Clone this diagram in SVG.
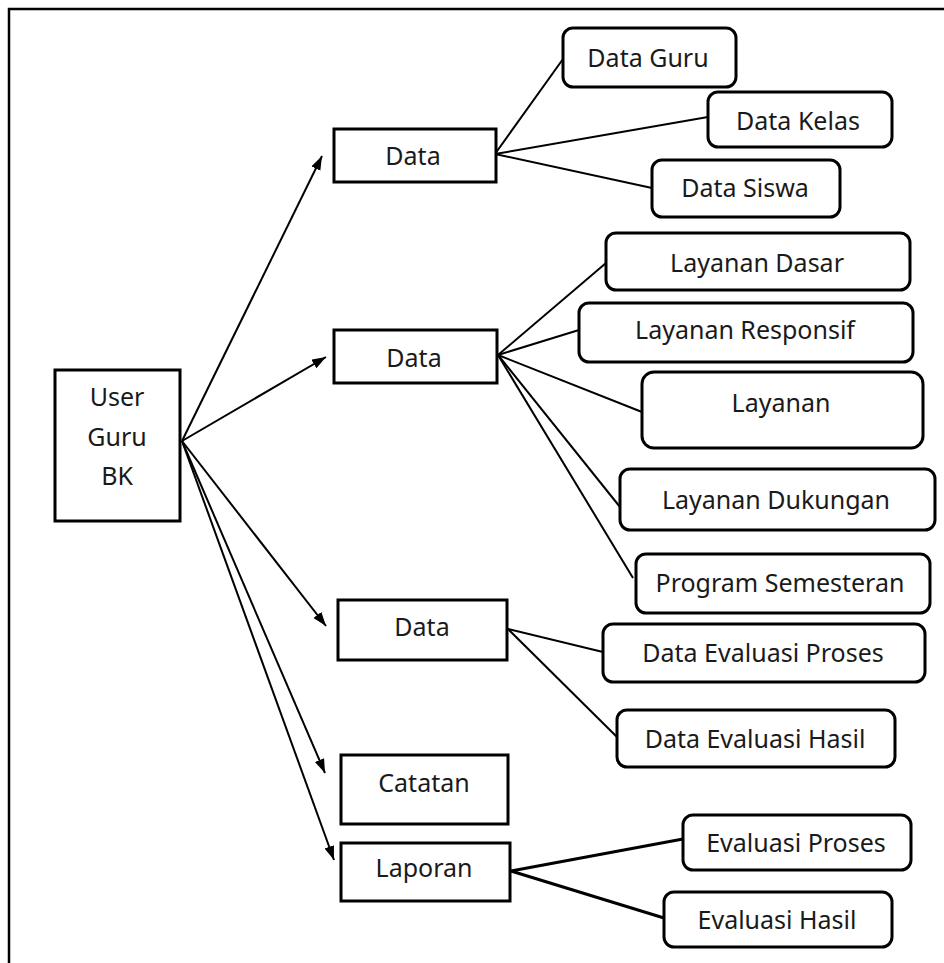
<svg xmlns="http://www.w3.org/2000/svg" width="944" height="963" viewBox="0 0 944 963">
<style>
.box{fill:#fff;stroke:#000;stroke-width:3}
.rbox{fill:#fff;stroke:#000;stroke-width:3}
.t{font-family:"Noto Sans","Open Sans",sans-serif;font-size:25px;fill:#1a1a1a;text-anchor:middle}
.c{stroke:#000;stroke-width:2;fill:none}
.ct{stroke:#000;stroke-width:3;fill:none}
</style>
<defs>
<marker id="arr" markerUnits="userSpaceOnUse" markerWidth="16" markerHeight="12" refX="14" refY="5" orient="auto">
<path d="M0,0 L14,5 L0,10 z" fill="#000"/>
</marker>
</defs>
<rect width="944" height="963" fill="#fff"/>
<rect x="9" y="9" width="1000" height="1000" fill="none" stroke="#000" stroke-width="2.5"/>
<g id="connectors">
<line class="c" x1="182" y1="441" x2="322" y2="156" marker-end="url(#arr)"/>
<line class="c" x1="182" y1="441" x2="326" y2="357" marker-end="url(#arr)"/>
<line class="c" x1="182" y1="441" x2="326" y2="626" marker-end="url(#arr)"/>
<line class="c" x1="182" y1="441" x2="325" y2="773" marker-end="url(#arr)"/>
<line class="c" x1="182" y1="441" x2="334" y2="860" marker-end="url(#arr)"/>
<line class="c" x1="495" y1="154" x2="563" y2="59"/>
<line class="c" x1="495" y1="154" x2="708" y2="117"/>
<line class="c" x1="495" y1="154" x2="652" y2="188"/>
<line class="c" x1="498" y1="355" x2="606" y2="263"/>
<line class="c" x1="498" y1="355" x2="579" y2="330"/>
<line class="c" x1="498" y1="355" x2="642" y2="412"/>
<line class="c" x1="498" y1="355" x2="620" y2="507"/>
<line class="c" x1="498" y1="355" x2="633" y2="578"/>
<line class="c" x1="508" y1="629" x2="603" y2="652"/>
<line class="c" x1="508" y1="629" x2="617" y2="737"/>
<line class="ct" x1="511" y1="871" x2="683" y2="839"/>
<line class="ct" x1="511" y1="871" x2="664" y2="918"/>
</g>
<g id="user"><rect class="box" x="55" y="370" width="125" height="151"/>
<text class="t" x="117" y="406">User</text><text class="t" x="117" y="446">Guru</text><text class="t" x="117" y="485">BK</text></g>
<g id="data1"><rect class="box" x="334" y="129" width="162" height="53"/><text class="t" x="413" y="165">Data</text></g>
<g id="data2"><rect class="box" x="334" y="330" width="163" height="53"/><text class="t" x="414" y="367">Data</text></g>
<g id="data3"><rect class="box" x="338" y="600" width="169" height="60"/><text class="t" x="422" y="636">Data</text></g>
<g id="catatan"><rect class="box" x="341" y="755" width="167" height="69"/><text class="t" x="424" y="792">Catatan</text></g>
<g id="laporan"><rect class="box" x="341" y="843" width="169" height="58"/><text class="t" x="424" y="877">Laporan</text></g>
<g id="dataguru"><rect class="rbox" x="563" y="28" width="173" height="59" rx="10"/><text class="t" x="648" y="67">Data Guru</text></g>
<g id="datakelas"><rect class="rbox" x="708" y="92" width="184" height="55" rx="10"/><text class="t" x="798" y="130">Data Kelas</text></g>
<g id="datasiswa"><rect class="rbox" x="652" y="160" width="188" height="57" rx="10"/><text class="t" x="745" y="197">Data Siswa</text></g>
<g id="layanandasar"><rect class="rbox" x="606" y="233" width="304" height="57" rx="10"/><text class="t" x="757" y="272">Layanan Dasar</text></g>
<g id="layananresponsif"><rect class="rbox" x="579" y="303" width="334" height="59" rx="10"/><text class="t" x="745" y="339">Layanan Responsif</text></g>
<g id="layanan"><rect class="rbox" x="642" y="372" width="281" height="76" rx="12"/><text class="t" x="781" y="412">Layanan</text></g>
<g id="layanandukungan"><rect class="rbox" x="620" y="469" width="315" height="61" rx="10"/><text class="t" x="776" y="509">Layanan Dukungan</text></g>
<g id="programsemesteran"><rect class="rbox" x="636" y="554" width="294" height="59" rx="10"/><text class="t" x="780" y="592">Program Semesteran</text></g>
<g id="dataevaluasiproses"><rect class="rbox" x="603" y="624" width="322" height="58" rx="10"/><text class="t" x="763" y="662">Data Evaluasi Proses</text></g>
<g id="dataevaluasihasil"><rect class="rbox" x="617" y="710" width="278" height="57" rx="10"/><text class="t" x="755" y="748">Data Evaluasi Hasil</text></g>
<g id="evaluasiproses"><rect class="rbox" x="683" y="815" width="228" height="55" rx="10"/><text class="t" x="796" y="852">Evaluasi Proses</text></g>
<g id="evaluasihasil"><rect class="rbox" x="664" y="892" width="228" height="55" rx="10"/><text class="t" x="777" y="929">Evaluasi Hasil</text></g>
</svg>
